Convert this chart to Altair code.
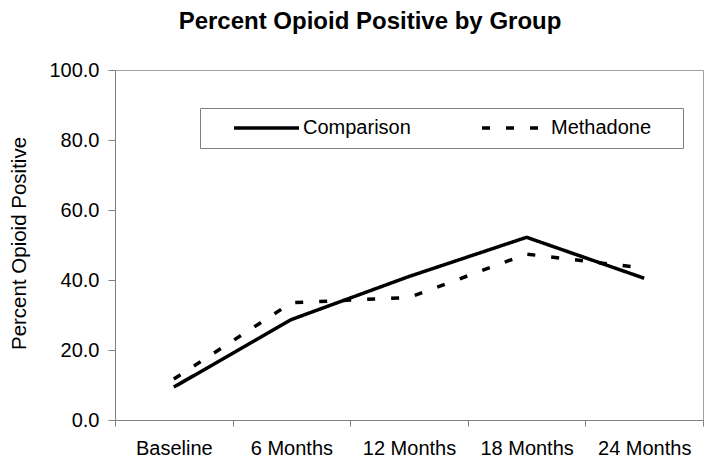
import altair as alt
import pandas as pd

categories = ["Baseline", "6 Months", "12 Months", "18 Months", "24 Months"]
comparison = [9.4, 28.7, 41.0, 52.2, 40.5]
methadone = [11.7, 33.5, 35.0, 47.4, 43.4]
groups = ["Comparison", "Methadone"]

rows = []
for i, c in enumerate(categories):
    rows.append({"time": c, "group": groups[0], "value": comparison[i], "order": i})
    rows.append({"time": c, "group": groups[1], "value": methadone[i], "order": i})
df = pd.DataFrame(rows)

FONT = "Liberation Sans"

chart = alt.Chart(df).mark_line(strokeWidth=3.5, color="black", strokeCap="butt").encode(
    x=alt.X("time:N", sort=categories,
            scale=alt.Scale(type="band", paddingInner=0, paddingOuter=0),
            bandPosition=0.5,
            axis=alt.Axis(title=None, labelAngle=0, tickBand="extent", tickSize=6,
                          labelPadding=12, labelFontSize=20, labelFont=FONT,
                          labelColor="black", domainColor="#808080", tickColor="#808080")),
    y=alt.Y("value:Q", scale=alt.Scale(domain=[0, 100], nice=False),
            axis=alt.Axis(title="Percent Opioid Positive", values=[0, 20, 40, 60, 80, 100],
                          format=".1f", grid=False, tickSize=7, labelPadding=9,
                          labelFontSize=20, labelFont=FONT, labelColor="black",
                          domainColor="#808080", tickColor="#808080",
                          titleFont=FONT, titleFontSize=20.5, titleFontWeight="normal",
                          titleColor="black", titleX=-90, titleY=173, titleAngle=270,
                          titleAlign="center", titleBaseline="alphabetic")),
    strokeDash=alt.StrokeDash("group:N", sort=groups,
                              scale=alt.Scale(domain=groups, range=[[1, 0], [8, 16]]),
                              legend=alt.Legend(title=" ", titleOrient="right", titlePadding=22,
                                                titleFontSize=20, titleFont=FONT,
                                                orient="none", legendX=85, legendY=38,
                                                direction="horizontal", strokeColor="#808080",
                                                padding=10, symbolType="M-6.5,0H6.5",
                                                symbolSize=100, symbolStrokeWidth=3.5,
                                                symbolStrokeColor="black",
                                                symbolFillColor="transparent",
                                                labelFontSize=20,
                                                labelFont=FONT, labelColor="black",
                                                labelOffset=26.5, columnPadding=47,
                                                symbolOffset=46.5)),
    detail="group:N",
    order="order:Q",
).properties(
    width=588, height=350,
    title=alt.Title("Percent Opioid Positive by Group", font=FONT, fontSize=24,
                    fontWeight="bold", color="black", anchor="middle", dx=-39, dy=-22),
    autosize=alt.AutoSizeParams(type="none"),
    padding={"left": 107, "top": 62, "right": 3, "bottom": 37},
).configure_view(stroke="#a0a0a0", strokeWidth=1)

chart.save("out.html", embed_options={"renderer": "svg", "actions": False})
